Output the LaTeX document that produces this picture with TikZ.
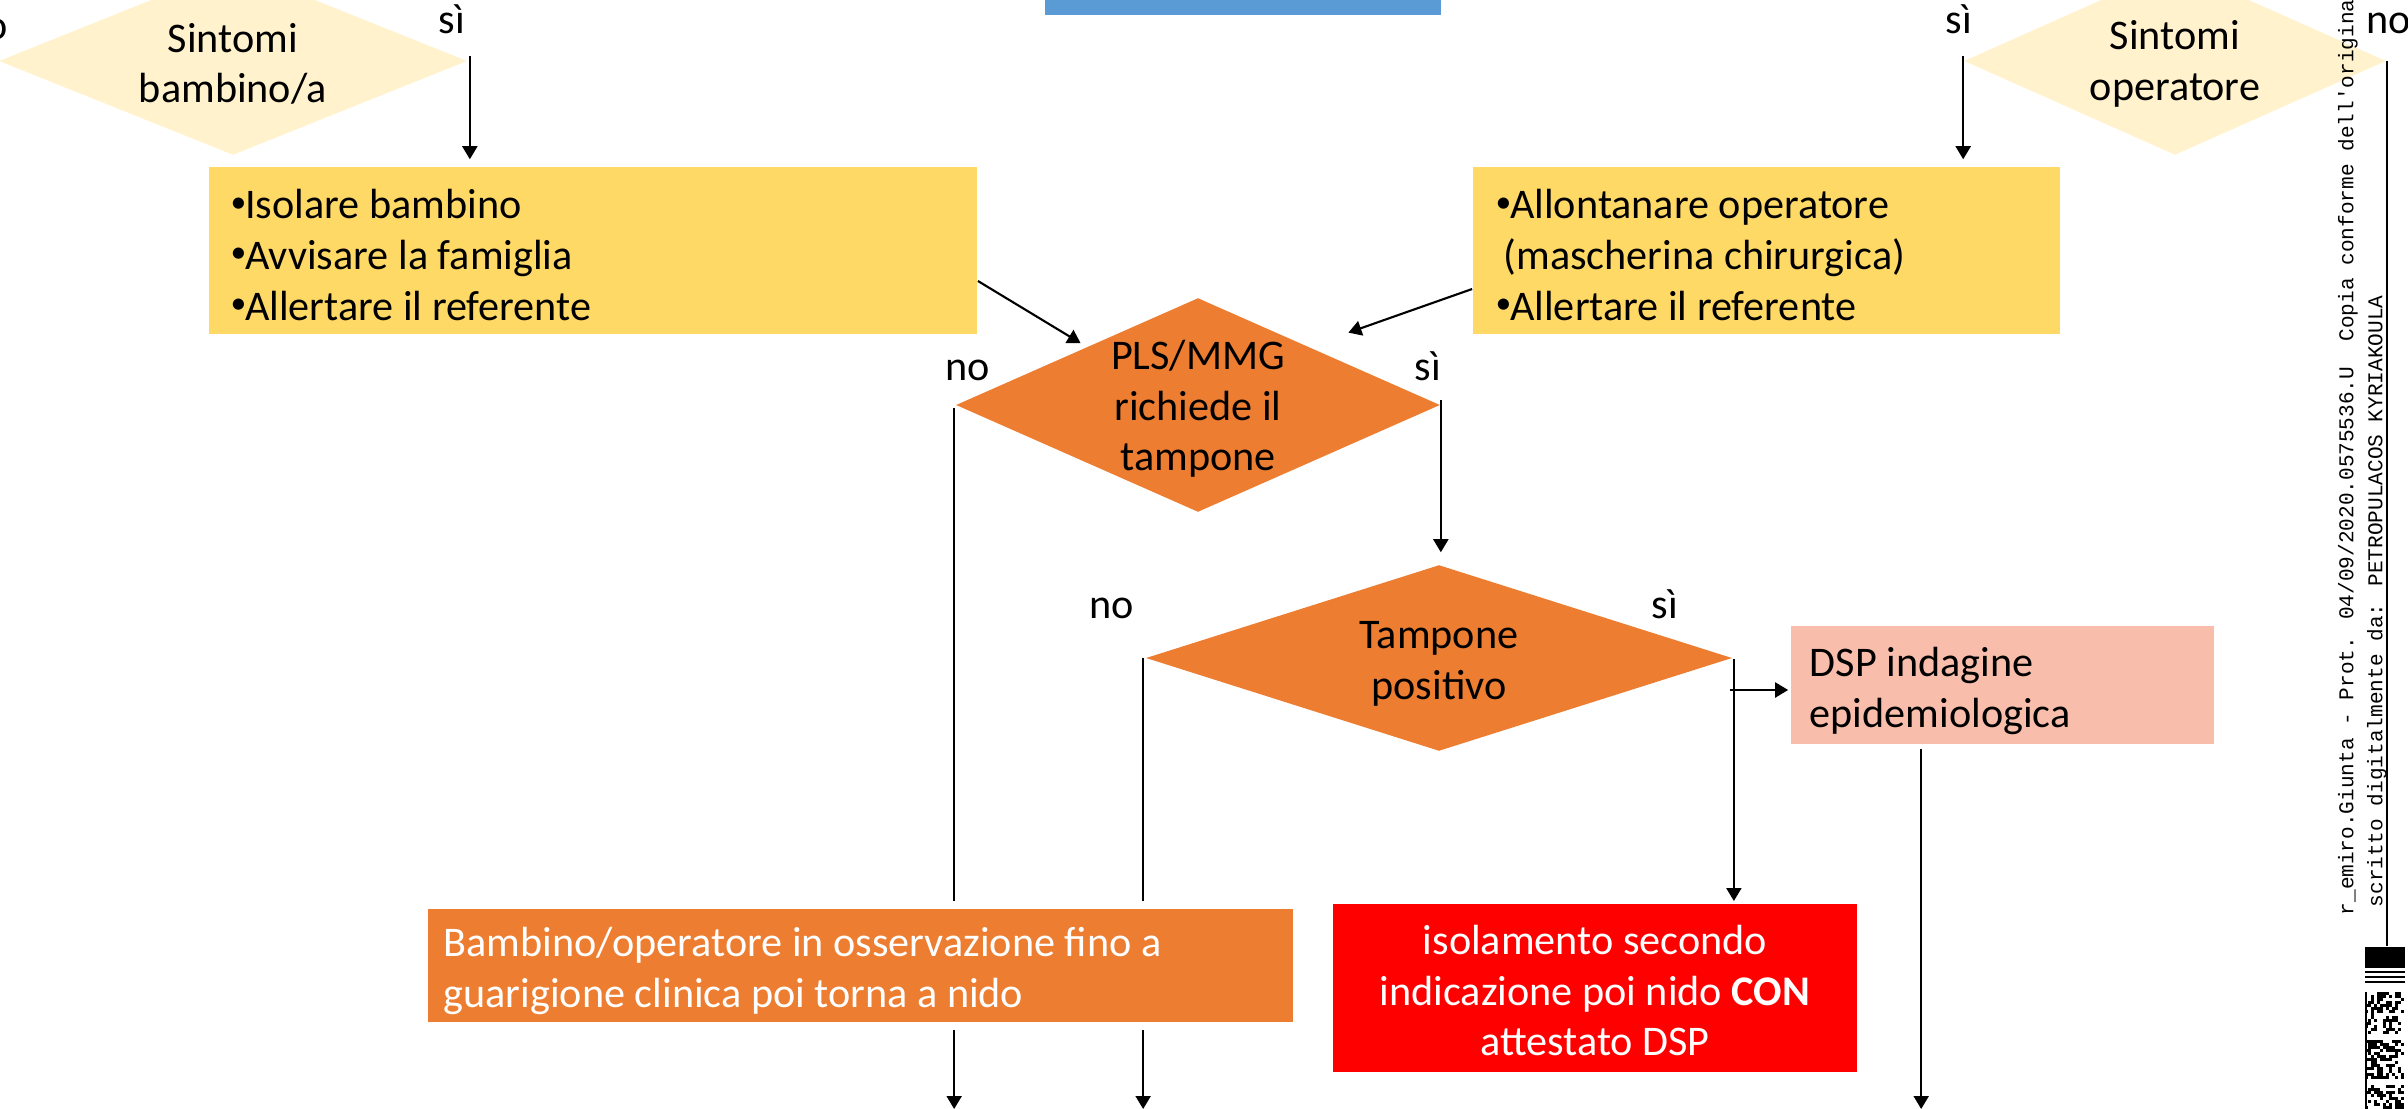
\documentclass[tikz,border=0pt]{standalone}
\usepackage{fontspec}
\setmainfont{Carlito}
\newfontfamily\stampfont{Liberation Mono}
\usetikzlibrary{shapes.geometric,arrows.meta,calc}
\definecolor{diayel}{HTML}{FFF2CC}
\definecolor{boxyel}{HTML}{FFD966}
\definecolor{orng}{HTML}{ED7D31}
\definecolor{salmon}{RGB}{248,190,171}
\definecolor{redbox}{HTML}{FF0000}
\definecolor{bluebox}{HTML}{5B9BD5}
\newcommand\bul{\makebox[0.145cm][l]{\raisebox{1.9pt}{\fontsize{9}{9}\selectfont •}}}
\begin{document}
\begin{tikzpicture}[x=0.01cm, y=-0.01cm, font=\fontsize{12}{14.4}\selectfont,
  dia/.style={diamond, inner sep=0pt},
  dtext/.style={align=center, inner sep=0pt},
  boxfill/.style={rectangle, inner sep=0pt},
  btext/.style={align=left, inner sep=0pt, anchor=west},
  lbl/.style={inner sep=0pt},
  ln/.style={line width=0.6pt, draw=black},
  arr/.style={ln, -{Triangle[width=0.15cm,length=0.13cm]}}]
\useasboundingbox (0,0) rectangle (2408,1109);
\clip (0,0) rectangle (2408,1109);
\coordinate (bot) at (0,1109);

% top blue box
\node[boxfill, fill=bluebox, minimum width=3.96cm, minimum height=0.65cm] (topbox) at (1243,-17.5) {};

% diamonds
\node[dia, fill=diayel, minimum width=4.68cm, minimum height=1.88cm] (sb) at (233,61) {};
\node[dtext] (sbt) at (233,64) {Sintomi\\bambino/a};
\node[dia, fill=diayel, minimum width=4.22cm, minimum height=1.88cm] (so) at (2175,61) {};
\node[dtext] (sot) at (2175,64) {Sintomi\\operatore};
\node[dia, fill=orng, minimum width=4.84cm, minimum height=2.14cm] (pls) at (1198,405) {};
\node[dtext] (plst) at (1198,409) {PLS/MMG\\richiede il\\tampone};
\node[dia, fill=orng, minimum width=5.86cm, minimum height=1.86cm] (tamp) at (1439,658) {};
\node[dtext] (tampt) at (1439,664) {Tampone\\positivo};

% upper boxes
\node[boxfill, fill=boxyel, minimum width=7.68cm, minimum height=1.67cm] (b1) at (593,250.5) {};
\node[btext] (b1t) at (230,255) {\bul Isolare bambino\\\bul Avvisare la famiglia\\\bul Allertare il referente};
\node[boxfill, fill=boxyel, minimum width=5.87cm, minimum height=1.67cm] (b2) at (1766.5,250.5) {};
\node[btext] (b2t) at (1495,255) {\bul Allontanare operatore\\\hspace*{0.08cm}(mascherina chirurgica)\\\bul Allertare il referente};
\node[boxfill, fill=salmon, minimum width=4.23cm, minimum height=1.18cm] (dsp) at (2002.5,685) {};
\node[btext] (dspt) at (1809,691) {DSP indagine\\epidemiologica};

% labels
\node[lbl, anchor=base east] (l1) at (8,40) {no};
\node[lbl, anchor=base] (l2) at (452,33) {sì};
\node[lbl, anchor=base] (l3) at (1959,33) {sì};
\node[lbl, anchor=base west] (l4) at (2366,33) {no};
\node[lbl, anchor=base] (l5) at (968,380) {no};
\node[lbl, anchor=base] (l6) at (1428,380) {sì};
\node[lbl, anchor=base] (l7) at (1112,618) {no};
\node[lbl, anchor=base] (l8) at (1665,618) {sì};

% connectors
\draw[arr] ($(sb.east)+(2,-5)$) -- ($(sb.east |- b1.north)+(2,-7)$);
\draw[arr] ($(so.west)+(0,-5)$) -- ($(so.west |- b2.north)+(0,-7)$);
\draw[arr] ($(b1.east)+(0,30.5)$) -- ($(pls.north west)+(4,-8)$);
\draw[arr] ($(b2.west)+(0,38.5)$) -- ($(pls.north east)+(29,-18.5)$);
\draw[arr] ($(pls.east)+(0,-5)$) -- ($(pls.east |- tamp.north)+(0,-12)$);
\draw[arr] ($(pls.west)+(-1,3)$) -- ($(pls.west |- bot)+(-1,0)$);
\draw[arr] ($(tamp.west)+(-2,0)$) -- ($(tamp.west |- bot)+(-2,0)$);
\draw[arr] ($(tamp.east)+(1,1)$) -- ($(tamp.east |- 0,904)+(1,-3)$);
\draw[arr] ($(tamp.east |- dsp.west)+(-3,5)$) -- ($(dsp.west)+(-2,5)$);
\draw[arr] ($(dsp.south west)+(131,4)$) -- ($(dsp.south west |- bot)+(131,0)$);

% bottom boxes (drawn over the lines)
\node[boxfill, fill=orng, draw=white, line width=0.08cm, minimum width=8.73cm, minimum height=1.21cm] (obs) at (860.5,965.5) {};
\node[btext, text=white] (obst) at (443,971) {Bambino/operatore in osservazione fino a\\guarigione clinica poi torna a nido};
\node[boxfill, fill=redbox, minimum width=5.24cm, minimum height=1.68cm] (red) at (1595,988) {};
\node[dtext, text=white] (redt) at (1595,990.5) {isolamento secondo\\indicazione poi nido \textbf{CON}\\attestato DSP};

% stamp text and code
\node[lbl, rotate=90, anchor=west, font=\stampfont\fontsize{6}{7}\selectfont] (st1) at (2348,916)
  {r\_emiro.Giunta - Prot. 04/09/2020.0575536.U\ \ Copia conforme dell'origina};
\node[lbl, rotate=90, anchor=west, font=\stampfont\fontsize{6}{7}\selectfont] (st2) at (2377,908)
  {scritto digitalmente da: PETROPULACOS KYRIAKOULA};
\node[fill=black, minimum width=0.40cm, minimum height=0.21cm, inner sep=0pt] (qr) at (2385,957.5) {};
\draw[ln] (so.east) -- (so.east |- qr.north);
\fill (2365,971) rectangle (2405,973);
\fill (2365,976) rectangle (2405,978);
\fill (2365,981) rectangle (2405,983);
\pgfmathsetseed{2020}
\foreach \yy/\nn in {992/14, 1040/13, 1085/8}{
  \foreach \rr in {1,...,\nn}{
    \foreach \cc in {0,...,12}{
      \pgfmathsetmacro\qv{rnd}
      \ifdim\qv pt>0.5pt \fill (2365+3*\cc, \yy+3*\rr-3) rectangle ++(3,3); \fi
    }}}
\fill (2365,992) rectangle (2367,1109);
\end{tikzpicture}
\end{document}
